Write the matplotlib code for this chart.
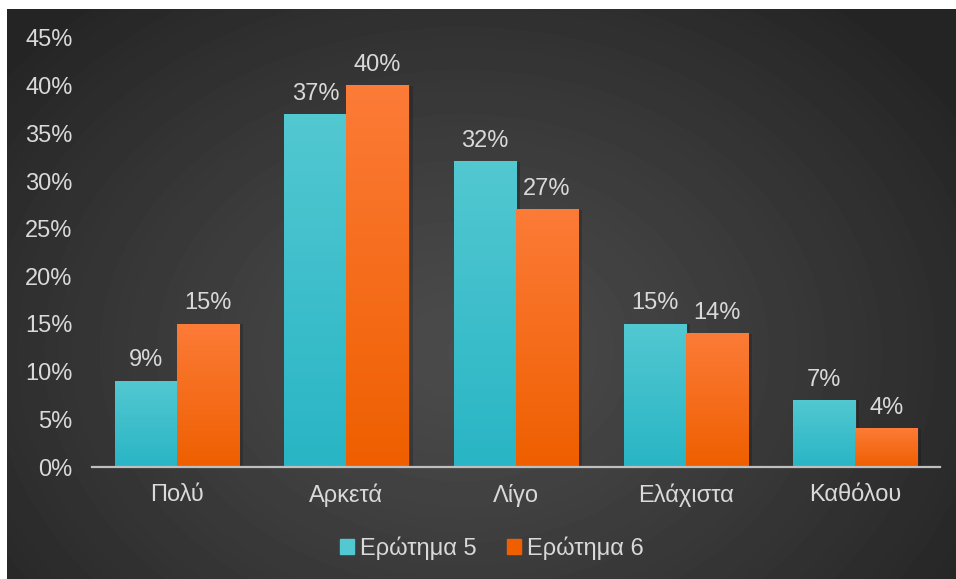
import matplotlib.pyplot as plt
import numpy as np
from matplotlib.colors import LinearSegmentedColormap
from matplotlib.patches import Patch

categories = ["Πολύ", "Αρκετά", "Λίγο", "Ελάχιστα", "Καθόλου"]
erotima_5 = [9, 37, 32, 15, 7]
erotima_6 = [15, 40, 27, 14, 4]
series_names = ["Ερώτημα 5", "Ερώτημα 6"]
y_ticks = [0, 5, 10, 15, 20, 25, 30, 35, 40, 45]

plt.rcParams["font.family"] = ["Liberation Sans", "DejaVu Sans"]
text_color = "#d9d9d9"
fsize = 17

# top / bottom colours of each series' vertical gradient
cyan = ("#52c8d1", "#29b5c5")
orange = ("#fc7b37", "#ef5f00")

fig = plt.figure(figsize=(9.56, 5.79), dpi=100)
fig.patch.set_facecolor("white")

# dark radial background
bg = fig.add_axes([7 / 956, 0, 949 / 956, 570 / 579])
h, w = 570, 949
yy, xx = np.mgrid[0:h, 0:w]
r = np.sqrt(((xx - 0.48 * w) / (0.62 * w)) ** 2 + ((yy - 0.6 * h) / (0.8 * h)) ** 2)
shade = 0.295 - 0.15 * np.clip(r, 0, 1) ** 1.2
bg.imshow(shade, cmap="gray", vmin=0, vmax=1, aspect="auto", interpolation="bilinear")
bg.axis("off")

ax = fig.add_axes([92 / 956, 112 / 579, 848 / 956, 429 / 579])
ax.patch.set_alpha(0)

x = np.arange(len(categories))
width = 0.366

for vals, cols, off, name in [(erotima_5, cyan, -width / 2, series_names[0]),
                              (erotima_6, orange, width / 2, series_names[1])]:
    rects = ax.bar(x + off, vals, width, color=cols[1], label=name, zorder=2)
    cmap = LinearSegmentedColormap.from_list(name, [cols[1], cols[0]])
    for rect, v in zip(rects, vals):
        x0 = rect.get_x()
        # soft shadow on the right
        ax.bar(x0 + rect.get_width() + 0.008, v, 0.016, align="edge",
               color="black", alpha=0.18, zorder=1)
        grad = np.linspace(1, 0, 100).reshape(-1, 1)
        ax.imshow(grad, cmap=cmap, aspect="auto", zorder=2.5,
                  extent=[x0, x0 + rect.get_width(), 0, rect.get_height()])
        ax.annotate(f"{v}%", (rect.get_x() + rect.get_width() / 2, v),
                    xytext=(0, 7), textcoords="offset points",
                    ha="center", va="bottom", color=text_color, fontsize=fsize)

ax.set_xlim(-0.5, len(categories) - 0.5)
ax.set_ylim(0, 45)
ax.set_yticks(y_ticks, [f"{t}%" for t in y_ticks])
ax.set_xticks(x, categories)
ax.tick_params(axis="y", length=0, pad=14, labelsize=fsize, labelcolor=text_color)
ax.tick_params(axis="x", length=0, pad=12, labelsize=fsize, labelcolor=text_color)
for s in ["top", "right", "left"]:
    ax.spines[s].set_visible(False)
ax.spines["bottom"].set_color("#bfbfbf")
ax.spines["bottom"].set_linewidth(1.6)
ax.spines["bottom"].set_zorder(3)

handles = [Patch(color=cyan[0], label=series_names[0]),
           Patch(color=orange[1], label=series_names[1])]
fig.legend(handles=handles, loc="center", bbox_to_anchor=(492 / 956, 1 - 548 / 579),
           ncol=2, frameon=False, handlelength=0.6, handleheight=0.6,
           handletextpad=0.25, columnspacing=1.3, fontsize=fsize,
           labelcolor=text_color)

fig.savefig("out.png", dpi=100, facecolor=fig.get_facecolor())
